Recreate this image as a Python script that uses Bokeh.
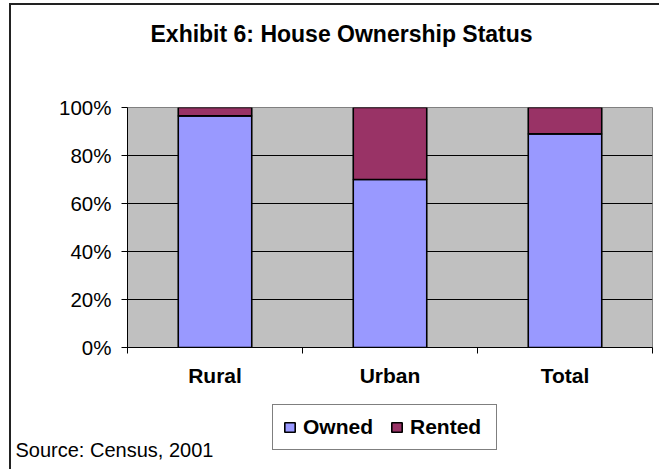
from bokeh.plotting import figure
from bokeh.layouts import column
from bokeh.models import (ColumnDataSource, Range1d, FixedTicker, PrintfTickFormatter,
                          Legend, LegendItem, Title, Label)
from bokeh.embed import file_html
from bokeh.resources import INLINE

# ---- data ----
categories = ["Rural", "Urban", "Total"]
owned = [96.5, 70.0, 89.0]
rented = [3.5, 30.0, 11.0]
series_names = ["Owned", "Rented"]
series_colors = ["#9999FF", "#993366"]
y_ticks = [0, 20, 40, 60, 80, 100]
title_text = "Exhibit 6: House Ownership Status"
source_text = "Source: Census, 2001"

FONT = "Liberation Sans"

x_pos = [i + 0.5 for i in range(len(categories))]
src = ColumnDataSource(dict(x=x_pos, Owned=owned, Rented=rented, cat=categories))

# ---------------- main chart ----------------
p = figure(width=648, height=392, frame_width=525, frame_height=240,
           x_range=Range1d(0, len(categories)), y_range=Range1d(0, 100),
           output_backend="svg", toolbar_location=None,
           min_border_left=116, min_border_right=7,
           min_border_top=102, min_border_bottom=50)
p.frame_align = False

p.background_fill_color = "#C0C0C0"
p.border_fill_color = "white"
p.outline_line_color = "#808080"
p.outline_line_width = 1

renderers = p.vbar_stack(series_names, x="x", width=0.42, source=src,
                         fill_color=series_colors, line_color="black", line_width=1.6)

# title
p.title.text = title_text
p.title.text_font = FONT
p.title.text_font_size = "23px"
p.title.text_font_style = "bold"
p.title.text_color = "black"
p.title.align = "left"
p.title.offset = 23
p.title.standoff = 10
# empty spacer between the title and the plot area
p.add_layout(Title(text=" ", text_font=FONT, text_font_size="20px", standoff=32), "above")

# y axis
yax = p.yaxis[0]
yax.ticker = FixedTicker(ticks=y_ticks)
yax.formatter = PrintfTickFormatter(format="%d%%")
yax.major_label_text_font = FONT
yax.major_label_text_font_size = "20.5px"
yax.major_label_text_color = "black"
yax.major_tick_out = 6
yax.major_tick_in = 0
yax.minor_tick_out = 0
yax.minor_tick_in = 0
yax.major_label_standoff = 10
yax.axis_line_color = "black"
yax.major_tick_line_color = "black"

# x axis
xax = p.xaxis[0]
xax.ticker = FixedTicker(ticks=x_pos, minor_ticks=list(range(len(categories) + 1)))
xax.major_label_overrides = {x: c for x, c in zip(x_pos, categories)}
xax.major_label_text_font = FONT
xax.major_label_text_font_size = "21px"
xax.major_label_text_font_style = "bold"
xax.major_label_text_color = "black"
xax.major_tick_out = 0
xax.major_tick_in = 0
xax.minor_tick_out = 6
xax.minor_tick_in = 0
xax.minor_tick_line_color = "black"
xax.major_label_standoff = 10
xax.axis_line_color = "black"

p.xgrid.visible = False
p.ygrid.ticker = FixedTicker(ticks=y_ticks)
p.ygrid.grid_line_color = "black"
p.ygrid.grid_line_width = 1

# ---------------- footer: legend + source note ----------------
f = figure(width=648, height=72, x_range=Range1d(0, 1), y_range=Range1d(0, 1),
           x_axis_type=None, y_axis_type=None,
           output_backend="svg", toolbar_location=None,
           min_border=0, min_border_left=0, min_border_right=0,
           min_border_top=0, min_border_bottom=0)
f.frame_align = False
f.background_fill_color = "white"
f.border_fill_color = "white"
f.outline_line_color = None
f.xgrid.visible = False
f.ygrid.visible = False

# legend glyph sources (same series styling, not drawn in the footer)
legend_renderers = f.vbar_stack(series_names, x="x", width=0.42, source=src,
                                fill_color=series_colors, line_color="black", line_width=1.6)
for r in legend_renderers:
    r.visible = False

legend = Legend(items=[LegendItem(label=n, renderers=[r]) for n, r in zip(series_names, legend_renderers)],
                orientation="horizontal", location=(261, 19),
                border_line_color="black", border_line_width=1,
                background_fill_color="white", background_fill_alpha=1,
                inactive_fill_alpha=0,
                label_text_font=FONT, label_text_font_size="21px",
                label_text_font_style="bold", label_text_color="black",
                glyph_width=13, glyph_height=12, label_standoff=7, label_width=76,
                spacing=11, padding=10, margin=0)
f.add_layout(legend)

f.add_layout(Label(x=4, y=20, x_units="screen", y_units="screen",
                   text=source_text, text_font=FONT, text_font_size="20px",
                   text_color="black", text_baseline="alphabetic"))

layout = column(p, f, spacing=0)
layout.styles = {"border-left": "2px solid #222", "border-top": "2px solid #222",
                 "margin-left": "9px", "margin-top": "3px"}

open("out.html", "w").write(file_html(layout, INLINE))
